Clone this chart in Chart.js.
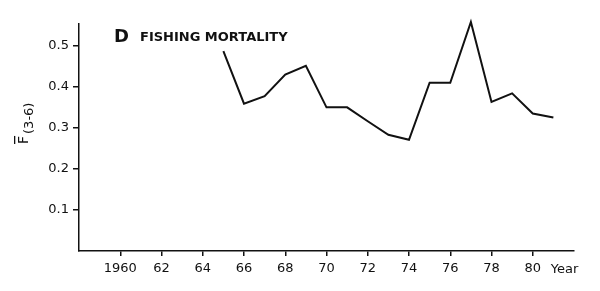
<!DOCTYPE html>
<html>
<head>
<meta charset="utf-8">
<script src="https://cdn.jsdelivr.net/npm/chart.js@4/dist/chart.umd.min.js"></script>
<style>
html,body{margin:0;padding:0;background:#fff;}
#wrap{width:600px;height:291px;position:relative;}
</style>
</head>
<body>
<div id="wrap"><canvas id="c" width="600" height="291"></canvas></div>
<script>
const years = [1965,1966,1967,1968,1969,1970,1971,1972,1973,1974,1975,1976,1977,1978,1979,1980,1981];
const fMort = [0.487,0.359,0.377,0.430,0.451,0.350,0.350,0.316,0.283,0.271,0.410,0.410,0.558,0.363,0.384,0.335,0.325];
const yTicks = [0.1,0.2,0.3,0.4,0.5];
const xTicks = [1960,1962,1964,1966,1968,1970,1972,1974,1976,1978,1980];
const titleLetter = 'D';
const titleText = 'FISHING MORTALITY';
const xAxisName = 'Year';

const FONT = '"DejaVu Sans", "Liberation Sans", sans-serif';

const annot = {
  id:'annot',
  afterDraw(chart){
    const ctx = chart.ctx;
    const xs = chart.scales.x;
    ctx.save();
    ctx.fillStyle = '#111';
    ctx.textBaseline = 'alphabetic';
    ctx.textAlign = 'left';
    // title
    ctx.font = 'bold 18px ' + FONT;
    ctx.fillText(titleLetter, 114, 42);
    ctx.font = 'bold 13px ' + FONT;
    ctx.fillText(titleText, 140, 41);
    // Year label
    ctx.font = '13px ' + FONT;
    ctx.fillText(xAxisName, xs.getPixelForValue(1980) + 18, 273);
    // y-axis label: F-bar (3-6), rotated
    ctx.translate(28, 144);
    ctx.rotate(-Math.PI/2);
    ctx.font = '14px ' + FONT;
    ctx.fillText('F', 0, 0);
    const fw = ctx.measureText('F').width;
    ctx.fillRect(0, -14, fw, 1.3);
    ctx.font = '13px ' + FONT;
    ctx.fillText('(3-6)', fw + 2, 5);
    ctx.restore();
  }
};

new Chart(document.getElementById('c'), {
  type:'line',
  data:{
    datasets:[{
      data: years.map((y,i)=>({x:y, y:fMort[i]})),
      borderColor:'#111',
      borderWidth:2,
      pointRadius:0,
      tension:0,
      fill:false,
      clip:false
    }]
  },
  options:{
    responsive:false,
    animation:false,
    devicePixelRatio:1,
    layout:{padding:{left:0,right:26,top:24,bottom:0}},
    plugins:{legend:{display:false},tooltip:{enabled:false},title:{display:false}},
    scales:{
      x:{
        type:'linear', min:1958, max:1982,
        afterBuildTicks(s){ s.ticks = xTicks.map(v=>({value:v})); },
        afterFit(s){ s.height = 40; },
        grid:{display:true, drawOnChartArea:false, drawTicks:true, tickLength:5, color:'#111', lineWidth:1.5},
        border:{display:true, color:'#111', width:1.5},
        ticks:{
          color:'#111', font:{family:FONT, size:13}, padding:5, maxRotation:0, autoSkip:false,
          callback(v){ return v===1960 ? '1960' : String(v).slice(2); }
        }
      },
      y:{
        type:'linear', min:0, max:0.553,
        afterBuildTicks(s){ s.ticks = yTicks.map(v=>({value:v})); },
        afterFit(s){ s.width = 79; },
        grid:{display:true, drawOnChartArea:false, drawTicks:true, tickLength:6, color:'#111', lineWidth:1.5},
        border:{display:true, color:'#111', width:1.5},
        ticks:{
          color:'#111', font:{family:FONT, size:13}, padding:4,
          callback(v){ return v.toFixed(1); }
        }
      }
    }
  },
  plugins:[annot]
});
</script>
</body>
</html>
